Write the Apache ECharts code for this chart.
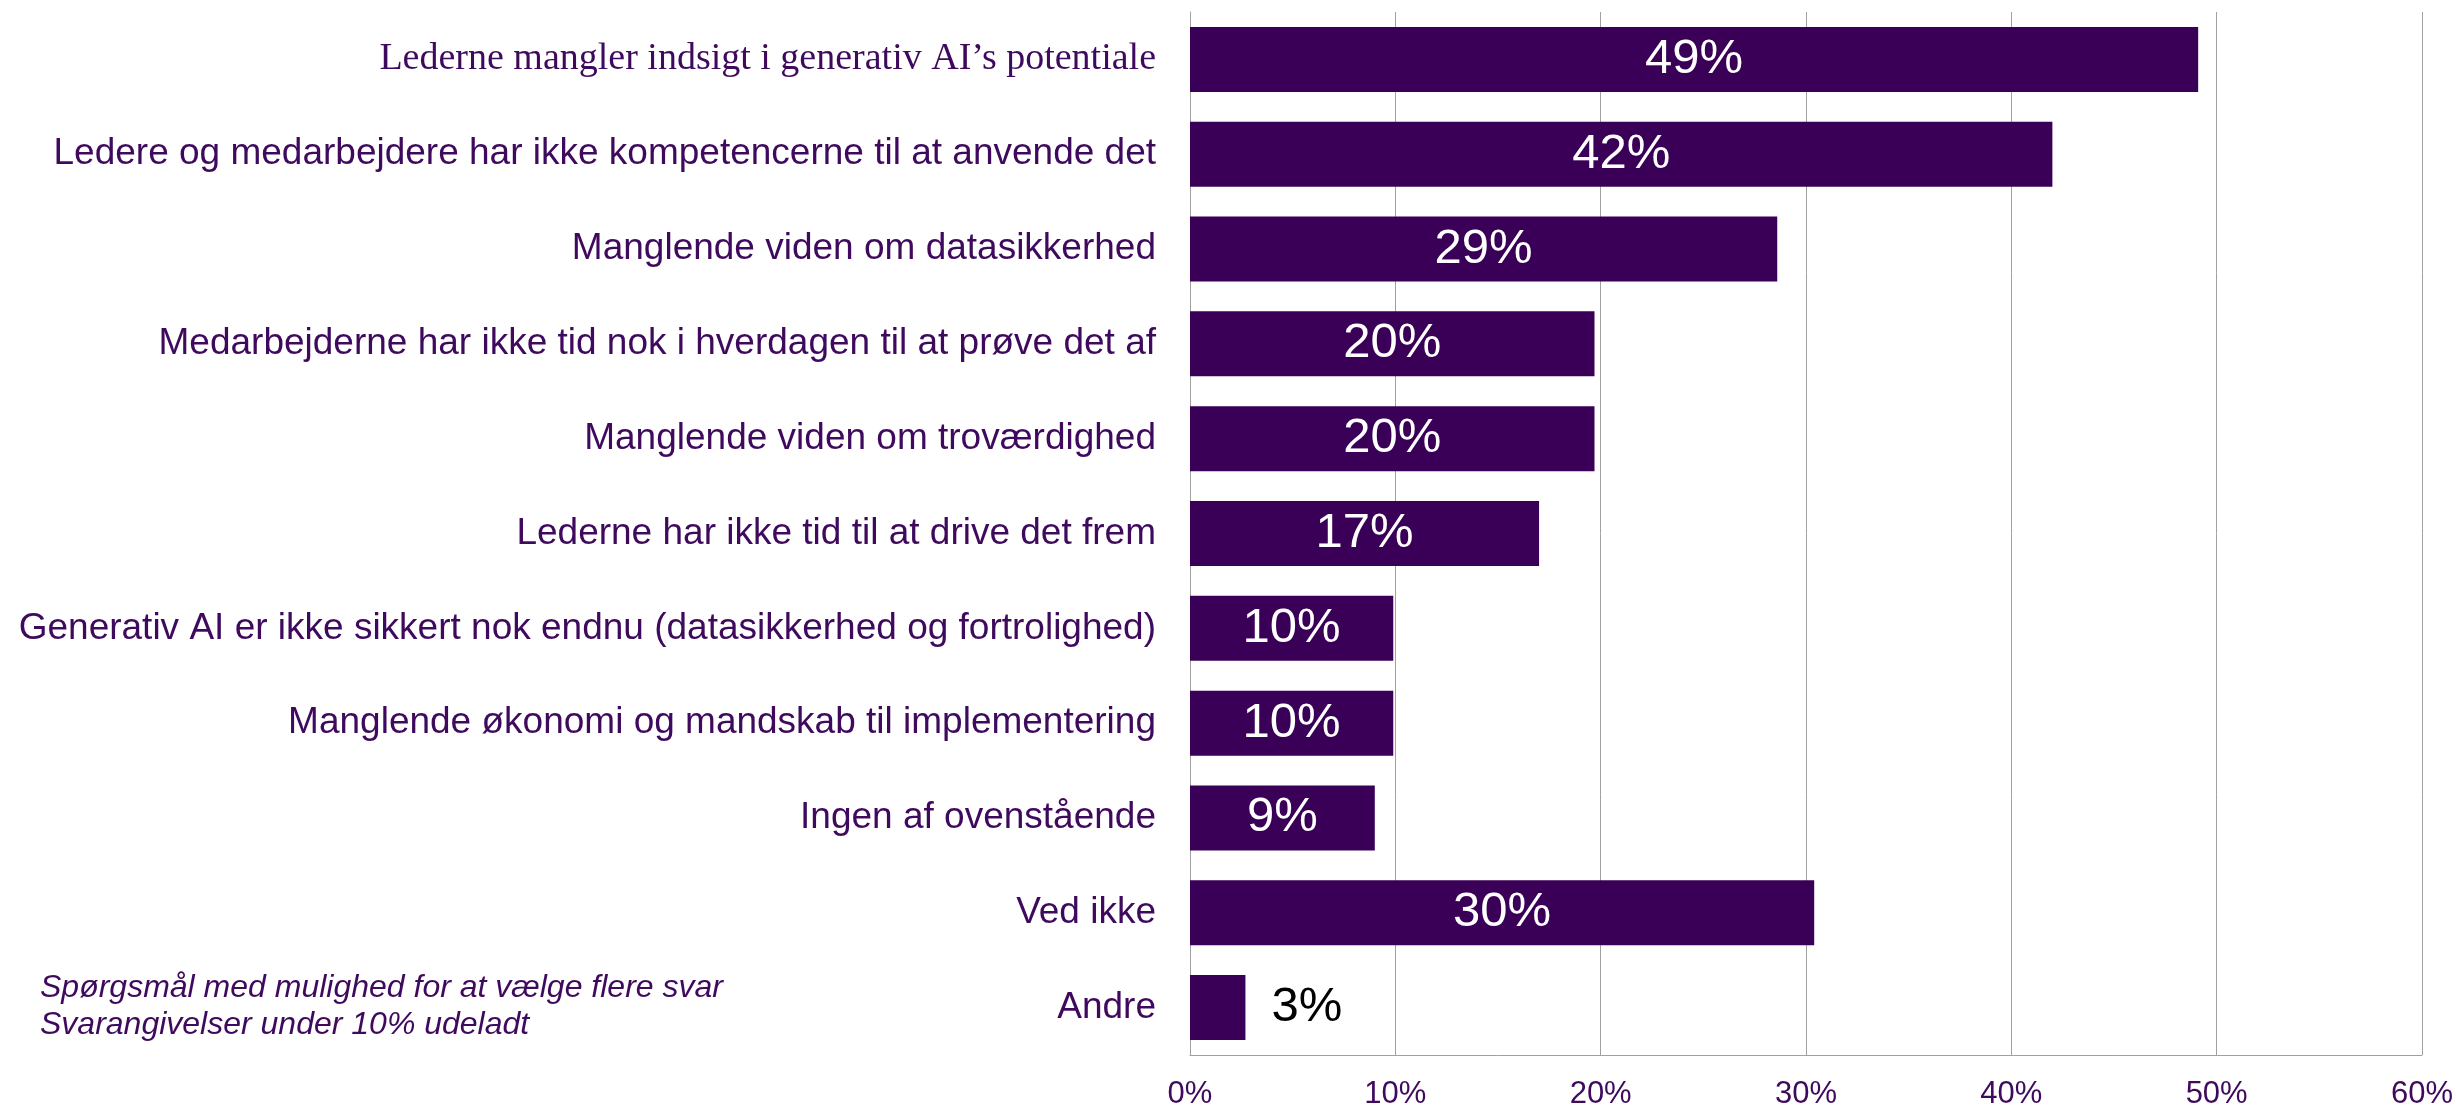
<!DOCTYPE html>
<html>
<head>
<meta charset="utf-8">
<script src="https://cdn.jsdelivr.net/npm/echarts@6/dist/echarts.min.js"></script>
<style>
  html, body { margin: 0; padding: 0; background: #fff; }
  #chart { width: 2456px; height: 1110px; }
</style>
</head>
<body>
<div id="chart"></div>
<script>
// kategorier (oppefra og ned)
var categories = [
  'Lederne mangler indsigt i generativ AI\u2019s potentiale',
  'Ledere og medarbejdere har ikke kompetencerne til at anvende det',
  'Manglende viden om datasikkerhed',
  'Medarbejderne har ikke tid nok i hverdagen til at prøve det af',
  'Manglende viden om troværdighed',
  'Lederne har ikke tid til at drive det frem',
  'Generativ AI er ikke sikkert nok endnu (datasikkerhed og fortrolighed)',
  'Manglende økonomi og mandskab til implementering',
  'Ingen af ovenstående',
  'Ved ikke',
  'Andre'
];
// andel i procent
var values = [49.1, 42.0, 28.6, 19.7, 19.7, 17.0, 9.9, 9.9, 9.0, 30.4, 2.7];
var xTicks = [0, 10, 20, 30, 40, 50, 60];
var noteLines = [
  'Spørgsmål med mulighed for at vælge flere svar',
  'Svarangivelser under 10% udeladt'
];

var purple = '#3a0057';
var textPurple = '#3f0a5e';

var chart = echarts.init(document.getElementById('chart'), null, { renderer: 'canvas' });

var barData = values.map(function (v) {
  var small = v < 5;
  return {
    value: v,
    label: small ? { position: 'right', color: '#000', distance: 26 } : {}
  };
});

chart.setOption({
  animation: false,
  grid: { left: 1190, right: 34, top: 12, bottom: 52 },
  xAxis: {
    type: 'value',
    min: xTicks[0],
    max: xTicks[xTicks.length - 1],
    interval: xTicks[1] - xTicks[0],
    axisLine: { show: true, lineStyle: { color: '#a0a0a0', width: 1 } },
    axisTick: { show: false },
    splitLine: { show: true, lineStyle: { color: '#a0a0a0', width: 1 } },
    axisLabel: {
      margin: 24,
      color: textPurple,
      fontFamily: 'Liberation Sans, Arial, sans-serif',
      fontSize: 31,
      formatter: '{value}%'
    }
  },
  yAxis: {
    type: 'category',
    inverse: true,
    data: categories,
    axisLine: { show: true, lineStyle: { color: '#a0a0a0', width: 1 } },
    axisTick: { show: false },
    axisLabel: {
      margin: 34,
      color: textPurple,
      fontFamily: 'Liberation Sans, Arial, sans-serif',
      fontSize: 37,
      formatter: function (val, idx) {
        return idx === 0 ? '{serif|' + val + '}' : val;
      },
      rich: {
        serif: {
          fontFamily: 'Liberation Serif, Times New Roman, serif',
          fontSize: 38,
          color: textPurple
        }
      }
    }
  },
  series: [{
    type: 'bar',
    data: barData,
    barWidth: 65,
    itemStyle: { color: purple },
    label: {
      show: true,
      position: 'inside',
      color: '#fff',
      fontFamily: 'Liberation Sans, Arial, sans-serif',
      fontSize: 49,
      formatter: function (p) { return Math.round(p.value) + '%'; }
    }
  }],
  graphic: [{
    type: 'text',
    left: 40,
    top: 970,
    style: {
      text: noteLines.join('\n'),
      fill: textPurple,
      font: 'italic 32px "Liberation Sans", Arial, sans-serif',
      lineHeight: 37
    }
  }]
});
</script>
</body>
</html>
